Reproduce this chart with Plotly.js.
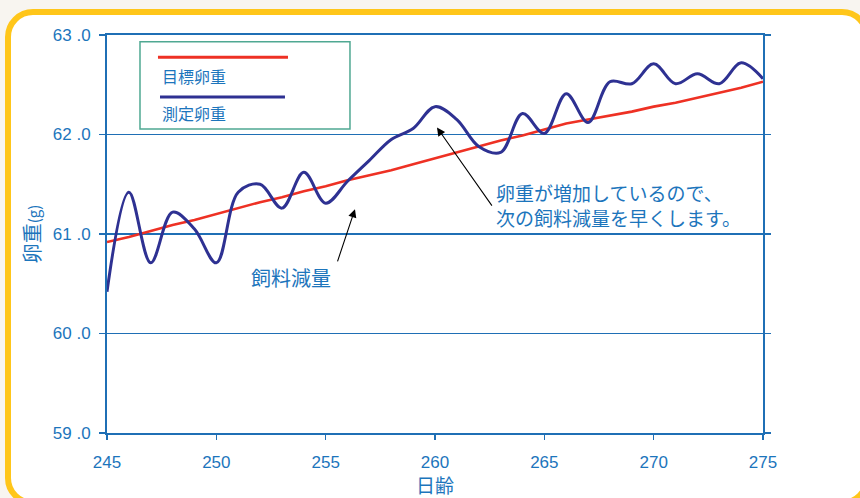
<!DOCTYPE html>
<html>
<head>
<meta charset="utf-8">
<script src="https://cdn.plot.ly/plotly-3.0.1.min.js"></script>
<style>
  html, body { margin: 0; padding: 0; width: 860px; height: 498px; overflow: hidden; background: #f8f5f0; }
  #frame {
    position: absolute; left: 5px; top: 9px; width: 853px; height: 485px;
    border: 6px solid #ffc61a; border-radius: 28px; background: #ffffff;
  }
  #chart { position: absolute; left: 0; top: 0; width: 860px; height: 498px; }
</style>
</head>
<body>
<div id="frame"></div>
<div id="chart"></div>
<script>
// Age in days
const days = [245, 246, 247, 248, 249, 250, 251, 252, 253, 254, 255, 256, 257, 258, 259, 260,
              261, 262, 263, 264, 265, 266, 267, 268, 269, 270, 271, 272, 273, 274, 275];
// Target egg weight (g)
const targetWeight = [60.92, 60.97, 61.03, 61.09, 61.14, 61.20, 61.26, 61.32, 61.37, 61.43, 61.48,
                      61.54, 61.59, 61.64, 61.70, 61.76, 61.82, 61.88, 61.94, 61.99, 62.05, 62.11,
                      62.15, 62.19, 62.23, 62.28, 62.32, 62.37, 62.42, 62.47, 62.53];
// Measured egg weight (g)
const measuredWeight = [60.42, 61.42, 60.71, 61.22, 61.05, 60.71, 61.42, 61.50, 61.26, 61.62, 61.31,
                        61.53, 61.74, 61.95, 62.06, 62.28, 62.15, 61.88, 61.82, 62.21, 62.01, 62.41,
                        62.12, 62.53, 62.51, 62.71, 62.51, 62.61, 62.51, 62.72, 62.56];
const seriesNames = ['目標卵重', '測定卵重'];
const noteLines = ['卵重が増加しているので、', '次の飼料減量を早くします。'];
const xTickVals = [245, 250, 255, 260, 265, 270, 275];
const yTickVals = [59, 60, 61, 62, 63];
const yTickText = ['59 .0', '60 .0', '61 .0', '62 .0', '63 .0'];

const RED = '#ee3124';
const NAVY = '#2e3192';
const TEXT_BLUE = '#1c75bc';
const AXIS_BLUE = '#1f6fb5';
const FONT = '"Noto Sans CJK JP", "Liberation Sans", sans-serif';
const TICK_FONT = '"Liberation Sans", Arial, sans-serif';

const traces = [
  {
    x: days, y: targetWeight, name: seriesNames[0], type: 'scatter', mode: 'lines',
    line: { color: RED, width: 2.6 }
  },
  {
    x: days, y: measuredWeight, name: seriesNames[1], type: 'scatter', mode: 'lines',
    line: { color: NAVY, width: 3, shape: 'spline', smoothing: 1 }
  }
];

const layout = {
  width: 860, height: 498,
  margin: { l: 107, r: 97, t: 35, b: 65 },
  paper_bgcolor: 'rgba(0,0,0,0)',
  plot_bgcolor: 'rgba(0,0,0,0)',
  showlegend: false,
  font: { family: FONT, color: TEXT_BLUE },
  xaxis: {
    range: [245, 275], tickvals: xTickVals,
    showgrid: false, zeroline: false,
    showline: true, linecolor: AXIS_BLUE, linewidth: 2, mirror: true,
    ticks: 'outside', ticklen: 5, tickwidth: 1.5, tickcolor: AXIS_BLUE,
    ticklabelstandoff: 8,
    tickfont: { family: TICK_FONT, size: 17, color: TEXT_BLUE },
    title: { text: '日齢', font: { family: FONT, size: 19, color: TEXT_BLUE }, standoff: 12 }
  },
  yaxis: {
    range: [59, 63], tickvals: yTickVals, ticktext: yTickText,
    showgrid: true, gridcolor: AXIS_BLUE, gridwidth: 1.8, zeroline: false,
    showline: true, linecolor: AXIS_BLUE, linewidth: 2, mirror: 'ticks',
    ticks: 'outside', ticklen: 6, tickwidth: 1.5, tickcolor: AXIS_BLUE,
    ticklabelstandoff: 5,
    tickfont: { family: TICK_FONT, size: 17, color: TEXT_BLUE },
    title: {
      text: '卵重<span style="font-size:15px">(g)</span>',
      font: { family: FONT, size: 20, color: TEXT_BLUE }, standoff: 7
    }
  },
  shapes: [
    // legend box
    { type: 'rect', xref: 'paper', yref: 'paper', x0: 0.0503, x1: 0.3704, y0: 0.7638, y1: 0.9832,
      line: { color: '#4fa892', width: 1.5 }, fillcolor: 'rgba(255,255,255,1)' },
    { type: 'line', xref: 'paper', yref: 'paper', x0: 0.0777, x1: 0.2759, y0: 0.944, y1: 0.944,
      line: { color: RED, width: 3 } },
    { type: 'line', xref: 'paper', yref: 'paper', x0: 0.0808, x1: 0.2713, y0: 0.8442, y1: 0.8442,
      line: { color: NAVY, width: 3 } }
  ],
  annotations: [
    { xref: 'paper', yref: 'paper', x: 0.0808, y: 0.8977, xanchor: 'left', yanchor: 'middle',
      text: seriesNames[0], showarrow: false, font: { family: FONT, size: 16, color: TEXT_BLUE } },
    { xref: 'paper', yref: 'paper', x: 0.0808, y: 0.8033, xanchor: 'left', yanchor: 'middle',
      text: seriesNames[1], showarrow: false, font: { family: FONT, size: 16, color: TEXT_BLUE } },
    // feed reduction marker
    { x: 256.34, y: 61.25, ax: 255.52, ay: 60.71, axref: 'x', ayref: 'y', xref: 'x', yref: 'y',
      text: '', showarrow: true, arrowhead: 2, arrowsize: 1.5, arrowwidth: 1.1, arrowcolor: '#000000',
      standoff: 0 },
    { x: 253.4, y: 60.56, xref: 'x', yref: 'y', text: '飼料減量', showarrow: false,
      font: { family: FONT, size: 20, color: TEXT_BLUE } },
    // egg weight rising note
    { x: 260.09, y: 62.07, ax: 262.65, ay: 61.27, axref: 'x', ayref: 'y', xref: 'x', yref: 'y',
      text: '', showarrow: true, arrowhead: 2, arrowsize: 1.5, arrowwidth: 1.1, arrowcolor: '#000000',
      standoff: 0 },
    { x: 262.75, y: 61.42, xref: 'x', yref: 'y', xanchor: 'left', yanchor: 'middle',
      text: noteLines[0], showarrow: false, borderpad: 0,
      font: { family: FONT, size: 19, color: TEXT_BLUE } },
    { x: 262.75, y: 61.17, xref: 'x', yref: 'y', xanchor: 'left', yanchor: 'middle',
      text: noteLines[1], showarrow: false, borderpad: 0,
      font: { family: FONT, size: 19, color: TEXT_BLUE } }
  ]
};

Plotly.newPlot('chart', traces, layout, { staticPlot: true, displayModeBar: false });
</script>
</body>
</html>
